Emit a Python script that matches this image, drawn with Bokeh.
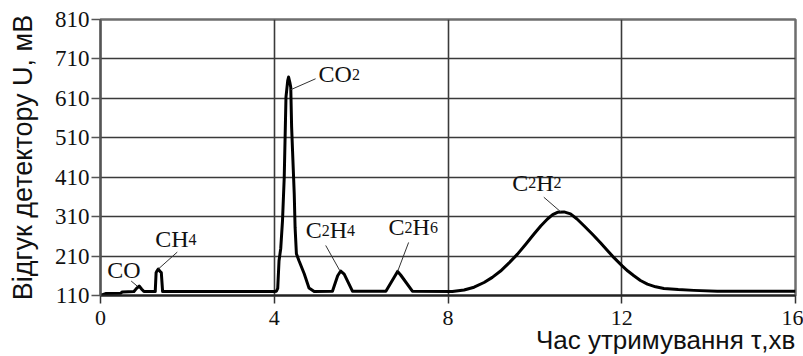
from bokeh.plotting import figure
from bokeh.models import ColumnDataSource, Range1d, FixedTicker, Title
from bokeh.core.properties import value
from bokeh.embed import file_html
from bokeh.resources import INLINE

# ---------------- data ----------------
time_min = [0.00, 0.05, 0.13, 0.47, 0.50, 0.77, 0.83, 0.89, 0.95, 1.00,
            1.26, 1.28, 1.30, 1.33, 1.37, 1.40, 1.43, 1.46,
            4.00, 4.05, 4.08, 4.11, 4.15, 4.19, 4.23, 4.27, 4.31, 4.33,
            4.36, 4.38, 4.40, 4.43, 4.46, 4.48, 4.51, 4.57, 4.69, 4.80, 4.92,
            5.34, 5.46, 5.53, 5.61, 5.80,
            6.57, 6.84, 6.91, 7.18,
            8.10, 8.37, 8.60, 8.83, 9.02, 9.21, 9.40, 9.60, 9.79, 9.98, 10.14,
            10.29, 10.41, 10.52, 10.67, 10.82, 10.97, 11.13, 11.32, 11.51,
            11.67, 11.82, 12.01, 12.14, 12.28, 12.43, 12.59, 12.78, 12.97,
            13.30, 13.66, 14.20, 16.00]
signal_mv = [110, 112, 115, 116, 119, 120, 128, 134, 126, 120,
             120, 168, 172, 177, 171, 168, 120, 120,
             120, 121, 128, 198, 230, 300, 410, 613, 655, 664,
             650, 638, 537, 452, 368, 282, 216, 198, 165, 129, 120,
             121, 160, 172, 164, 121,
             121, 171, 162, 121,
             120, 124, 131, 143, 156, 172, 192, 215, 240, 266, 287,
             304, 315, 321, 322, 317, 304, 287, 266, 244,
             224, 206, 185, 172, 160, 148, 139, 132, 128,
             125, 123, 121, 121]

x_ticks = [0, 4, 8, 12, 16]
y_ticks = [110, 210, 310, 410, 510, 610, 710, 810]

peak_names = ["CO", "CH4", "CO2", "C2H4", "C2H6", "C2H2"]
peak_time = [0.89, 1.33, 4.33, 5.53, 6.84, 10.62]
peak_signal = [134, 177, 664, 172, 171, 322]

y_title = "Відгук детектору U, мВ"
x_title = "Час утримування  τ,хв"

# ---------------- layout ----------------
X0, X1, Y0, Y1 = 0, 16, 110, 810
FW, FH = 695, 276
BL, BR, BT, BB = 100, 8, 19, 61
SX = FW / (X1 - X0)
SY = FH / (Y1 - Y0)


def off(x, y, dx, dy):
    """shift a data point by a pixel offset (dx right, dy down)"""
    return x + dx / SX, y - dy / SY


# leader (start dx,dy, end dx,dy) and text (left dx, baseline dy), pixels from the apex
leader_off = [(-2, 0, -8, -5), (0, 0, 19, -17), (2, 12.7, 27, 1.7),
              (-1, -0.6, -15, -25.6), (0, 0, 11, -29), (-1, 0, -18, -14.7)]
TEXT_SHIFT = -8
text_off = [(-32, -8.5), (-3, -21.6), (30, 5.4), (-35, -32.6), (-9, -36), (-49.6, -21.4)]

MAIN_PX, SUB_PX = 24, 16
char_w = {"C": 0.667, "O": 0.722, "H": 0.722}

p = figure(frame_width=FW, frame_height=FH, min_border_left=BL, min_border_right=BR,
           min_border_top=BT, min_border_bottom=BB,
           x_range=Range1d(X0, X1), y_range=Range1d(Y0, Y1),
           output_backend="svg", toolbar_location=None,
           background_fill_color="white", border_fill_color="white")

# grid
p.xgrid.ticker = FixedTicker(ticks=x_ticks)
p.ygrid.ticker = FixedTicker(ticks=y_ticks)
for g in (p.xgrid, p.ygrid):
    g.grid_line_color = "#3a3a3a"
    g.grid_line_width = 1.6

p.outline_line_color = "#6e6e6e"
p.outline_line_width = 2.5

# axes
p.xaxis.ticker = FixedTicker(ticks=x_ticks)
p.yaxis.ticker = FixedTicker(ticks=y_ticks)
for ax in (p.xaxis, p.yaxis):
    ax.major_label_text_font = "Liberation Serif"
    ax.major_label_text_color = "#111111"
    ax.minor_tick_line_color = None
    ax.major_tick_in = 0
    ax.axis_line_width = 2
    ax.major_tick_line_width = 1.5
    ax.axis_label_text_font = "Liberation Sans"
    ax.axis_label_text_font_style = "normal"
    ax.axis_label_text_color = "#111111"
p.yaxis.major_label_text_font_size = "23px"
p.yaxis.major_tick_out = 9
p.yaxis.major_label_standoff = 2
p.yaxis.axis_line_color = "#555555"
p.yaxis.major_tick_line_color = "#555555"
p.yaxis.axis_label = y_title
p.yaxis.axis_label_text_font_size = "27px"
p.yaxis.axis_label_standoff = 14

p.xaxis.major_label_text_font_size = "22px"
p.xaxis.major_tick_out = 8
p.xaxis.major_label_standoff = 7
p.xaxis.axis_line_color = "#222222"
p.xaxis.major_tick_line_color = "#333333"

# x-axis title, right aligned under the axis
p.add_layout(Title(text=x_title, align="right", vertical_align="bottom",
                   text_font="Liberation Sans", text_font_style="normal",
                   text_font_size="26px", text_color="#111111",
                   standoff=-10, offset=-7), "below")

# trace
p.line(time_min, signal_mv, line_color="black", line_width=3, line_join="round")

# peak labels and leaders
sx0, sy0, sx1, sy1 = [], [], [], []
tx, ty, tt, ts = [], [], [], []
for name, t, s, lo, to in zip(peak_names, peak_time, peak_signal, leader_off, text_off):
    a = off(t, s, lo[0], lo[1])
    b = off(t, s, lo[2], lo[3])
    sx0.append(a[0]); sy0.append(a[1]); sx1.append(b[0]); sy1.append(b[1])
    cur = to[0]
    for ch in name:
        if ch.isdigit():
            size, w = SUB_PX, 0.5 * SUB_PX
        else:
            size, w = MAIN_PX, char_w.get(ch, 0.7) * MAIN_PX
        px, py = off(t, s, cur, to[1] + TEXT_SHIFT)
        tx.append(px); ty.append(py); tt.append(ch); ts.append(f"{size}px")
        cur += w

p.segment(x0=sx0, y0=sy0, x1=sx1, y1=sy1, line_color="#333333", line_width=1)
src = ColumnDataSource(dict(x=tx, y=ty, text=tt, size=ts))
p.text(x="x", y="y", text="text", source=src, text_font=value("Liberation Serif"),
       text_font_size="size", text_color="#111111", text_align="left",
       text_baseline="alphabetic")

open("out.html", "w").write(file_html(p, INLINE))
